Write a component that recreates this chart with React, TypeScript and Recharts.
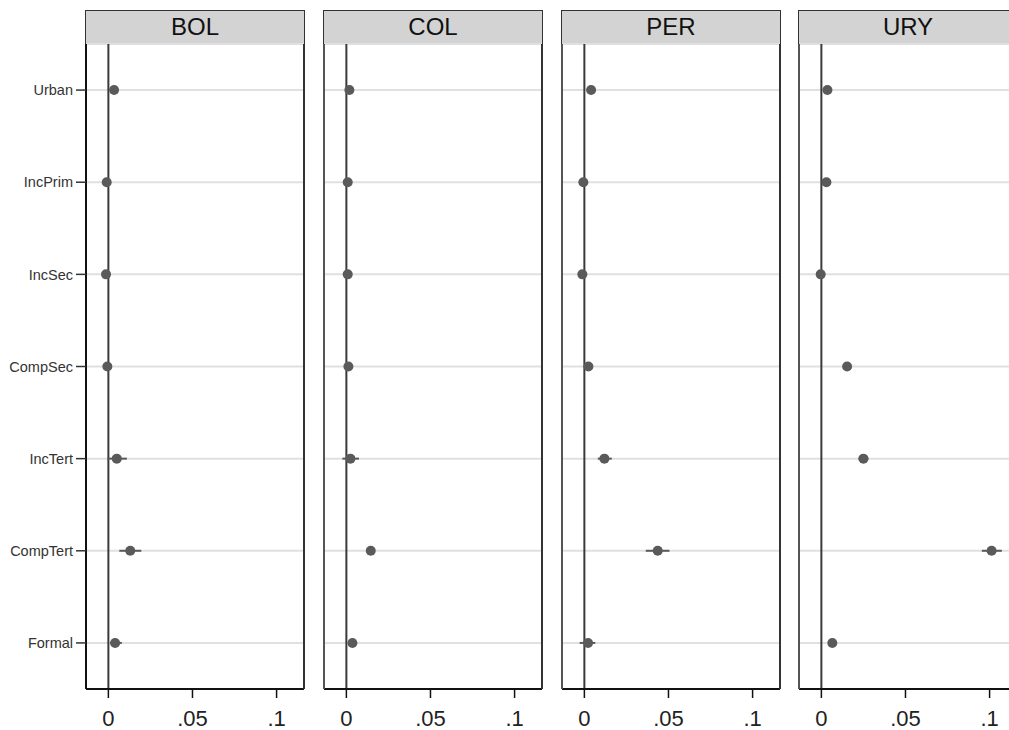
import React from "react";
import {
  ScatterChart,
  Scatter,
  XAxis,
  YAxis,
  CartesianGrid,
  ReferenceLine,
  ErrorBar,
} from "recharts";

const categories = ["Urban", "IncPrim", "IncSec", "CompSec", "IncTert", "CompTert", "Formal"];
const countries = ["BOL", "COL", "PER", "URY"];

const bolCoef = [0.0034, -0.001, -0.0014, -0.0006, 0.005, 0.013, 0.004];
const bolLo = [0.0026, -0.0018, -0.0022, -0.0014, -0.0006, 0.0065, 0.001];
const bolHi = [0.0042, -0.0002, -0.0006, 0.0002, 0.011, 0.0196, 0.008];

const colCoef = [0.0018, 0.0008, 0.0008, 0.0012, 0.0024, 0.0145, 0.0036];
const colLo = [0.0012, 0.0002, 0.0002, 0.0006, -0.0024, 0.012, 0.0025];
const colHi = [0.0024, 0.0014, 0.0014, 0.0018, 0.0075, 0.017, 0.0047];

const perCoef = [0.004, -0.0006, -0.0012, 0.0024, 0.0119, 0.0436, 0.0022];
const perLo = [0.003, -0.0015, -0.002, 0.0015, 0.008, 0.0365, -0.0028];
const perHi = [0.005, 0.0003, -0.0004, 0.0033, 0.0163, 0.0506, 0.0065];

const uryCoef = [0.0036, 0.003, -0.0004, 0.0153, 0.025, 0.1012, 0.0065];
const uryLo = [0.0028, 0.0022, -0.0012, 0.0135, 0.022, 0.0954, 0.005];
const uryHi = [0.0044, 0.0038, 0.0004, 0.017, 0.028, 0.1073, 0.008];

const xTicks = [0, 0.05, 0.1];
const xTickLabels = [".05", ".1"];
const xDomain: [number, number] = [-0.0133, 0.1163];
const yTicks = [1, 2, 3, 4, 5, 6, 7];

const seriesCoef = [bolCoef, colCoef, perCoef, uryCoef];
const seriesLo = [bolLo, colLo, perLo, uryLo];
const seriesHi = [bolHi, colHi, perHi, uryHi];

const panelLefts = [86, 324, 562, 799];
const PLOT_W = 218;
const FONT = "'Liberation Sans', Arial, Helvetica, sans-serif";
const POINT = "#5a5a5a";

const fmtX = (v: number) => {
  if (v === 0) return "0";
  if (Math.abs(v - 0.05) < 1e-9) return xTickLabels[0];
  if (Math.abs(v - 0.1) < 1e-9) return xTickLabels[1];
  return String(v);
};

const Dot = (props: any) => {
  const { cx, cy } = props;
  if (cx == null || cy == null) return null;
  return <circle cx={cx} cy={cy} r={5} fill={POINT} />;
};

const EmptyTick = () => <g />;

function Panel({ idx }: { idx: number }) {
  const first = idx === 0;
  const coef = seriesCoef[idx];
  const lo = seriesLo[idx];
  const hi = seriesHi[idx];
  const data = coef.map((v, i) => ({
    x: v,
    y: i + 1,
    err: [v - lo[i], hi[i] - v],
  }));
  const yAxisW = first ? 86 : 10;
  const rightW = 8;
  const width = yAxisW + PLOT_W + rightW;
  const chartLeft = panelLefts[idx] - yAxisW;
  return (
    <div style={{ position: "absolute", left: chartLeft, top: 0, width, height: 730 }}>
      <div
        style={{
          position: "absolute",
          left: yAxisW - 1,
          top: 10,
          width: PLOT_W + 2,
          height: 35,
          boxSizing: "border-box",
          background: "#d3d3d3",
          borderTop: "1.5px solid #333",
          borderLeft: "1.5px solid #333",
          borderRight: "1.5px solid #333",
          borderBottom: "2.5px solid #111",
          display: "flex",
          alignItems: "center",
          justifyContent: "center",
          fontSize: 24,
          color: "#111",
          fontFamily: FONT,
        }}
      >
        {countries[idx]}
      </div>
      <ScatterChart
        width={width}
        height={730}
        margin={{ top: 44, right: 0, bottom: 0, left: 0 }}
        style={{ fontFamily: FONT }}
      >
        <CartesianGrid
          yAxisId="l"
          horizontal
          vertical={false}
          stroke="#e0e0e0"
          strokeWidth={2}
        />
        <XAxis
          type="number"
          dataKey="x"
          domain={xDomain}
          allowDataOverflow
          ticks={xTicks}
          tickFormatter={fmtX}
          height={41}
          tickSize={9}
          tickMargin={12}
          tick={{ fontSize: 22, fill: "#222" }}
          axisLine={{ stroke: "#111", strokeWidth: 2 }}
          tickLine={{ stroke: "#111", strokeWidth: 1.5 }}
          interval={0}
        />
        <YAxis
          yAxisId="l"
          type="number"
          dataKey="y"
          domain={[0.5, 7.5]}
          allowDataOverflow
          reversed
          ticks={yTicks}
          interval={0}
          width={yAxisW}
          tickFormatter={(v: number) => categories[v - 1] ?? ""}
          tick={first ? { fontSize: 14.5, fill: "#333" } : EmptyTick}
          tickLine={first ? { stroke: "#333", strokeWidth: 1.5 } : false}
          tickSize={10}
          tickMargin={3}
          axisLine={{ stroke: first ? "#111" : "#555", strokeWidth: 2 }}
        />
        <YAxis
          yAxisId="r"
          orientation="right"
          type="number"
          domain={[0.5, 7.5]}
          width={rightW}
          tick={false}
          tickLine={false}
          axisLine={{ stroke: "#333", strokeWidth: 2 }}
        />
        <ReferenceLine yAxisId="l" x={0} stroke="#3a3a3a" strokeWidth={2} />
        <Scatter
          yAxisId="l"
          data={data}
          fill={POINT}
          shape={Dot}
          isAnimationActive={false}
        >
          <ErrorBar
            dataKey="err"
            direction="x"
            width={0}
            stroke={POINT}
            strokeWidth={2}
            isAnimationActive={false}
          />
        </Scatter>
      </ScatterChart>
    </div>
  );
}

export default function App() {
  return (
    <div
      style={{
        position: "absolute",
        left: 0,
        top: 0,
        width: 1009,
        height: 730,
        overflow: "hidden",
        background: "#fff",
        fontFamily: FONT,
      }}
    >
      {countries.map((c, i) => (
        <Panel key={c} idx={i} />
      ))}
    </div>
  );
}
